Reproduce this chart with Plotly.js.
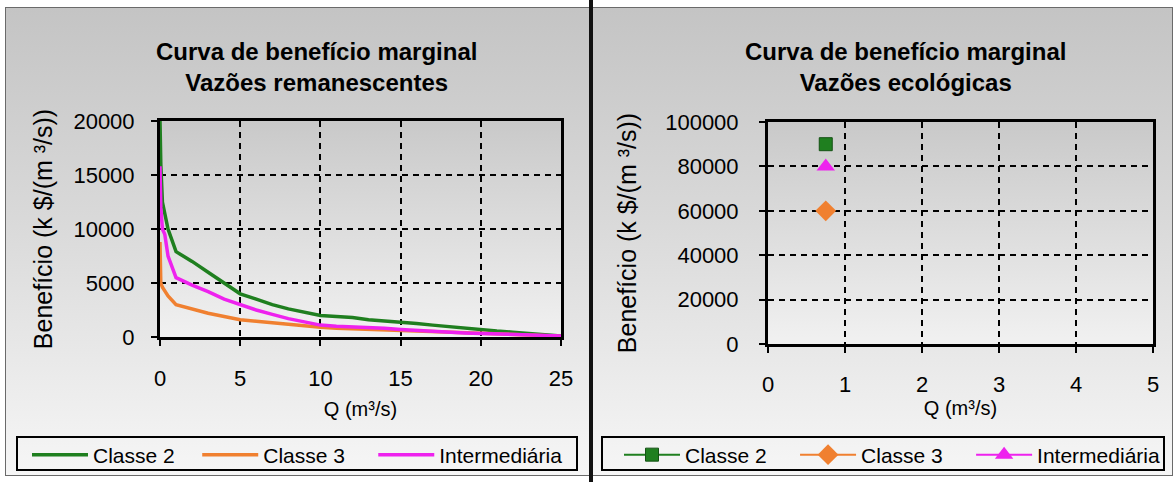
<!DOCTYPE html>
<html>
<head>
<meta charset="utf-8">
<script src="https://cdn.plot.ly/plotly-3.0.1.min.js"></script>
<style>
  html, body { margin: 0; padding: 0; background: #ffffff; }
  #wrap { position: relative; width: 1176px; height: 482px; overflow: hidden; }
  .panel { position: absolute; top: 7px; height: 469px; box-sizing: border-box;
           background: linear-gradient(to bottom, #c4c4c4 0%, #d9d9d9 45%, #f6f6f6 100%);
           border: 1px solid #6a6a6a; }
  .plotbg { position: absolute; background: linear-gradient(to bottom, #c9c9c9 0%, #f1f1f1 100%); }
  #chart { position: absolute; left: 0; top: 0; width: 1176px; height: 482px; }
  #divider { position: absolute; left: 589px; top: 0px; width: 4px; height: 482px; background: #111; }
</style>
</head>
<body>
<div id="wrap">
  <div class="panel" style="left:5px; width:586px;"></div>
  <div class="panel" style="left:592px; width:581px;"></div>
  <div id="divider"></div>
  <div class="plotbg" style="left:160px; top:121px; width:401px; height:216px;"></div>
  <div class="plotbg" style="left:768px; top:122px; width:385px; height:222px;"></div>
  <div id="chart"></div>
</div>
<script>
// ---- Data: left chart (Vazões remanescentes) ----
const qRem = [0, 0.05, 0.15, 0.3, 0.5, 1, 2, 3, 4, 5, 6, 7, 8, 9, 10, 11, 12, 13, 14, 15, 16, 17, 18, 19, 20, 21, 22, 23, 24, 25];
const classe2Rem = [20000, 16000, 12500, 11500, 10000, 7900, 7000, 6000, 5000, 4000, 3500, 3000, 2600, 2300, 2000, 1900, 1800, 1600, 1500, 1400, 1250, 1100, 950, 800, 700, 550, 450, 320, 200, 100];
const classe3Rem = [8800, 5000, 4600, 4200, 3800, 3000, 2600, 2200, 1900, 1600, 1450, 1300, 1150, 1000, 900, 800, 750, 700, 650, 600, 550, 500, 450, 380, 320, 250, 200, 150, 110, 80];
const intermRem = [15800, 12000, 10000, 9500, 7500, 5500, 4800, 4200, 3500, 3000, 2500, 2100, 1700, 1400, 1100, 1000, 950, 900, 800, 700, 600, 500, 420, 380, 330, 280, 220, 170, 130, 100];

// ---- Data: right chart (Vazões ecológicas) ----
const qEco = [0.75];
const classe2Eco = [90000];
const classe3Eco = [60000];
const intermEco = [80000];

const seriesNames = ['Classe 2', 'Classe 3', 'Intermediária'];
const leftTitle = ['Curva de benefício marginal', 'Vazões remanescentes'];
const rightTitle = ['Curva de benefício marginal', 'Vazões ecológicas'];
const xTitle = 'Q (m³/s)';
const yTitle = 'Benefício (k $/(m ³/s))';

const cGreen = '#1f7f1f', cOrange = '#f08030', cMagenta = '#ee22ee';
const FONT = 'Liberation Sans, Arial, sans-serif';

// trailing non-breaking spaces widen the gap between legend entries
const padL = '\u00a0\u00a0\u00a0';
const padL2 = '\u00a0\u00a0\u00a0\u00a0';
const padR = '\u00a0\u00a0\u00a0\u00a0';

const traces = [
  {x: qRem, y: classe2Rem, name: seriesNames[0] + padL, mode: 'lines', line: {color: cGreen, width: 3.5}, xaxis: 'x', yaxis: 'y', legend: 'legend'},
  {x: qRem, y: classe3Rem, name: seriesNames[1] + padL2, mode: 'lines', line: {color: cOrange, width: 3.5}, xaxis: 'x', yaxis: 'y', legend: 'legend'},
  {x: qRem, y: intermRem, name: seriesNames[2], mode: 'lines', line: {color: cMagenta, width: 3.5}, xaxis: 'x', yaxis: 'y', legend: 'legend'},
  {x: qEco, y: classe2Eco, name: seriesNames[0] + padR, mode: 'lines+markers', line: {color: cGreen, width: 2}, marker: {symbol: 'square', size: 13, color: cGreen, line: {color: '#145214', width: 1}}, xaxis: 'x2', yaxis: 'y2', legend: 'legend2'},
  {x: qEco, y: classe3Eco, name: seriesNames[1] + padR, mode: 'lines+markers', line: {color: cOrange, width: 2}, marker: {symbol: 'diamond', size: 16, color: cOrange}, xaxis: 'x2', yaxis: 'y2', legend: 'legend2'},
  {x: qEco, y: intermEco, name: seriesNames[2], mode: 'lines+markers', line: {color: cMagenta, width: 2}, marker: {symbol: 'triangle-up', size: 16, color: cMagenta}, xaxis: 'x2', yaxis: 'y2', legend: 'legend2'}
];

const W = 1176, H = 482;
function axBase() {
  return {
    showline: true, mirror: true, linecolor: '#000', linewidth: 3,
    ticks: 'outside', ticklen: 6, tickwidth: 2, tickcolor: '#000',
    showgrid: true, gridcolor: '#000', gridwidth: 2, griddash: '6px,5px',
    zeroline: false, fixedrange: true, automargin: false,
    tickformat: 'd',
    tickfont: {family: FONT, size: 22, color: '#000'}
  };
}

function boldTitle(lines) { return lines.map(s => '<b>' + s + '</b>').join('<br>'); }

const legendCommon = {
  orientation: 'h', xanchor: 'left', yanchor: 'middle',
  bgcolor: 'rgba(0,0,0,0)', borderwidth: 0,
  font: {family: FONT, size: 21, color: '#000'}, itemwidth: 56, traceorder: 'normal'
};

const layout = {
  width: W, height: H,
  margin: {l: 0, r: 0, t: 0, b: 0},
  paper_bgcolor: 'rgba(0,0,0,0)',
  plot_bgcolor: 'rgba(0,0,0,0)',
  font: {family: FONT, color: '#000'},
  showlegend: true,
  xaxis: Object.assign(axBase(), {domain: [160/W, 561/W], range: [0, 25], dtick: 5, tick0: 0, anchor: 'y',
    ticklabelstandoff: 14,
    title: {text: xTitle, font: {family: FONT, size: 20}, standoff: 12}}),
  yaxis: Object.assign(axBase(), {domain: [1 - 337/H, 1 - 121/H], range: [0, 20000], dtick: 5000, tick0: 0, anchor: 'x',
    ticklabelstandoff: 12,
    title: {text: yTitle, font: {family: FONT, size: 25}, standoff: 14}}),
  xaxis2: Object.assign(axBase(), {domain: [768/W, 1153/W], range: [0, 5], dtick: 1, tick0: 0, anchor: 'y2',
    ticklabelstandoff: 13,
    title: {text: xTitle, font: {family: FONT, size: 20}, standoff: 0}}),
  yaxis2: Object.assign(axBase(), {domain: [1 - 344/H, 1 - 122/H], range: [0, 100000], dtick: 20000, tick0: 0, anchor: 'x2',
    ticklabelstandoff: 16,
    title: {text: yTitle, font: {family: FONT, size: 25}, standoff: 22}}),
  legend: Object.assign({}, legendCommon, {x: 27/W, y: 1 - 455/H}),
  legend2: Object.assign({}, legendCommon, {x: 619/W, y: 1 - 455/H}),
  shapes: [
    {type: 'rect', xref: 'paper', yref: 'paper', x0: 17/W, x1: 577/W, y0: 1 - 470/H, y1: 1 - 437/H, line: {color: '#000', width: 2}, fillcolor: 'rgba(0,0,0,0)'},
    {type: 'rect', xref: 'paper', yref: 'paper', x0: 602/W, x1: 1164/W, y0: 1 - 470/H, y1: 1 - 437/H, line: {color: '#000', width: 2}, fillcolor: 'rgba(0,0,0,0)'}
  ],
  annotations: [
    {text: boldTitle(leftTitle), xref: 'paper', yref: 'paper', x: 316/W, y: 1 - 36/H,
     xanchor: 'center', yanchor: 'top', showarrow: false, font: {family: FONT, size: 24, color: '#000'}},
    {text: boldTitle(rightTitle), xref: 'paper', yref: 'paper', x: 905/W, y: 1 - 36/H,
     xanchor: 'center', yanchor: 'top', showarrow: false, font: {family: FONT, size: 24, color: '#000'}}
  ]
};

Plotly.newPlot('chart', traces, layout, {displayModeBar: false, staticPlot: true});
</script>
</body>
</html>
